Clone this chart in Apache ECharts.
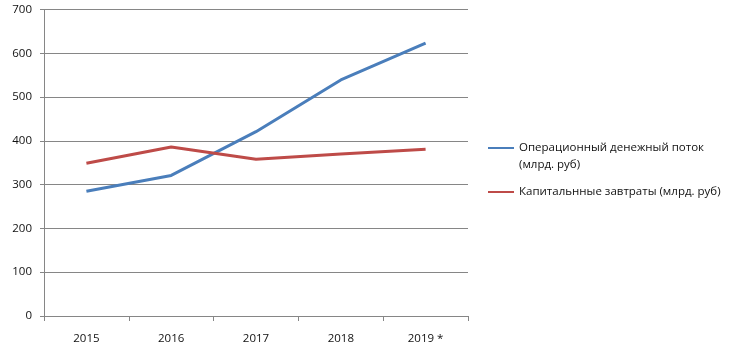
<!DOCTYPE html>
<html><head><meta charset="utf-8">
<script src="https://cdn.jsdelivr.net/npm/echarts@6/dist/echarts.min.js"></script>
<style>html,body{margin:0;padding:0;background:#fff}#c{width:729px;height:355px}</style>
</head><body><div id="c"></div>
<script>
var categories = ['2015', '2016', '2017', '2018', '2019 *'];
var operatingCashFlow = [285, 321, 421, 539, 623];
var capex = [349, 386, 358, 370, 381];
var seriesNames = ['Операционный денежный поток (млрд. руб)', 'Капитальнные завтраты (млрд. руб)'];
var legendLabels = ['{s| }\n{t|Операционный денежный поток}\n{t|(млрд. руб)}', '{t|Капитальнные завтраты (млрд. руб)}'];

var chart = echarts.init(document.getElementById('c'), null, {renderer: 'canvas'});
var font = 'Open Sans';
chart.setOption({
  animation: false,
  backgroundColor: '#fff',
  grid: {left: 44, right: 261, top: 9.5, bottom: 39, containLabel: false},
  legend: {
    orient: 'vertical', left: 483, top: 117.5,
    itemWidth: 26, itemHeight: 2, itemGap: 10,
    icon: 'rect',
    data: seriesNames,
    formatter: function (n) { return legendLabels[seriesNames.indexOf(n)]; },
    textStyle: {
      fontFamily: font, fontSize: 11.5, color: '#111', lineHeight: 17,
      rich: {
        s: {fontFamily: font, fontSize: 11.5, lineHeight: 17, height: 17},
        t: {fontFamily: font, fontSize: 11.5, color: '#111', lineHeight: 17, height: 17}
      }
    }
  },
  xAxis: {
    type: 'category', data: categories, boundaryGap: true,
    axisLine: {lineStyle: {color: '#868686', width: 1}},
    axisTick: {show: true, length: 5, lineStyle: {color: '#868686'}},
    axisLabel: {fontFamily: font, fontSize: 11.5, color: '#111', margin: 17}
  },
  yAxis: {
    type: 'value', min: 0, max: 700, interval: 100,
    axisLine: {show: true, lineStyle: {color: '#868686'}},
    axisTick: {show: true, length: 4, lineStyle: {color: '#868686'}},
    splitLine: {lineStyle: {color: '#868686', width: 1}},
    axisLabel: {fontFamily: font, fontSize: 11.5, color: '#111', margin: 12}
  },
  series: [
    {name: seriesNames[0], type: 'line', data: operatingCashFlow, symbol: 'none',
     lineStyle: {color: '#4A7EBB', width: 3}, itemStyle: {color: '#4A7EBB'}},
    {name: seriesNames[1], type: 'line', data: capex, symbol: 'none',
     lineStyle: {color: '#BE4B48', width: 3}, itemStyle: {color: '#BE4B48'}}
  ]
});
</script></body></html>
